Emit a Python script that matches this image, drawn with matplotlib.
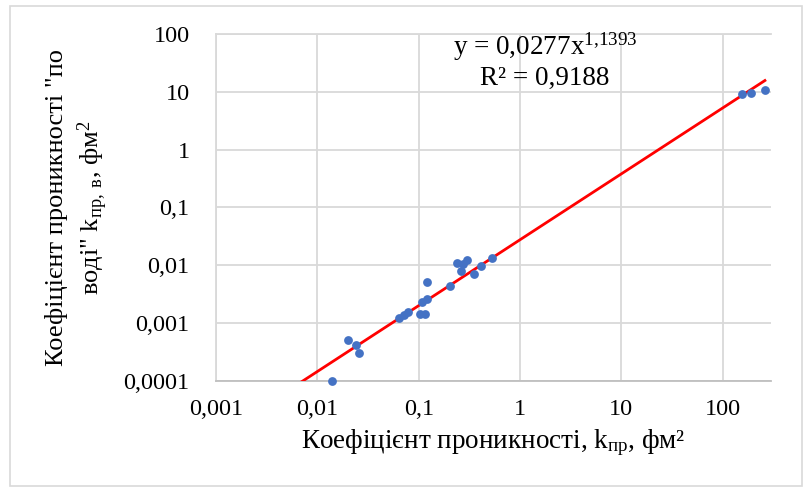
import numpy as np
import matplotlib
matplotlib.use("Agg")
import matplotlib.pyplot as plt
from matplotlib.patches import Rectangle

plt.rcParams['font.family'] = ['Liberation Serif', 'DejaVu Serif']
plt.rcParams['mathtext.fontset'] = 'custom'
plt.rcParams['mathtext.rm'] = 'Liberation Serif'
plt.rcParams['mathtext.it'] = 'Liberation Serif:italic'

# data
k_pr = [0.0138, 0.0199, 0.024, 0.0259, 0.0643, 0.0714, 0.0788, 0.1028, 0.115,
        0.109, 0.1197, 0.1205, 0.203, 0.237, 0.271, 0.301, 0.261, 0.350,
        0.413, 0.523, 155, 189, 261]
k_pr_v = [0.0001, 0.000517, 0.000414, 0.000305, 0.00123, 0.00138, 0.00158,
          0.00144, 0.00144, 0.00229, 0.00258, 0.00521, 0.00439, 0.0111,
          0.01054, 0.01236, 0.00798, 0.00698, 0.00986, 0.01355, 9.17, 9.42, 10.6]

# power trendline y = a * x^b
a_coef = 0.0277
b_coef = 1.1393
r2 = 0.9188

x_ticks = [0.001, 0.01, 0.1, 1, 10, 100]
x_tick_labels = ['0,001', '0,01', '0,1', '1', '10', '100']
y_ticks = [0.0001, 0.001, 0.01, 0.1, 1, 10, 100]
y_tick_labels = ['0,0001', '0,001', '0,01', '0,1', '1', '10', '100']

fig = plt.figure(figsize=(8.04, 4.88), dpi=100)
ax = fig.add_axes([0.2687, 0.2193, 0.959 - 0.2687, 0.9303 - 0.2193])

# chart border
fig.patches.append(Rectangle((10 / 804, 2 / 488), 792 / 804, 480 / 488,
                             transform=fig.transFigure, fill=False,
                             edgecolor='#d9d9d9', linewidth=1.2))

ax.set_xscale('log')
ax.set_yscale('log')
ax.set_xlim(0.001, 300)
ax.set_ylim(0.0001, 100)

xt = np.logspace(np.log10(0.001), np.log10(max(k_pr)), 200)
ax.plot(xt, a_coef * xt ** b_coef, color='#ff0000', linewidth=2.0, zorder=3)
ax.scatter(k_pr, k_pr_v, s=40, color='#4472c4', zorder=4, clip_on=False,
           linewidths=0)

ax.set_xticks(x_ticks)
ax.set_xticklabels(x_tick_labels)
ax.set_yticks(y_ticks)
ax.set_yticklabels(y_tick_labels)
ax.minorticks_off()
ax.tick_params(length=0, labelsize=17.5)
ax.tick_params(axis='x', pad=13)
ax.tick_params(axis='y', pad=19)

ax.grid(True, color='#d9d9d9', linewidth=1.3)
ax.set_axisbelow(True)
for s in ['left', 'top', 'right']:
    ax.spines[s].set_color('#d9d9d9')
    ax.spines[s].set_linewidth(1.3)
ax.spines['right'].set_visible(False)
ax.spines['bottom'].set_color('#bfbfbf')
ax.spines['bottom'].set_linewidth(1.3)

ax.set_xlabel('Коефіцієнт проникності, k$_{\\mathrm{пр}}$, фм²', fontsize=19.5,
              labelpad=5)
ax.set_ylabel('Коефіцієнт проникності "по\nводі" k$_{\\mathrm{пр,\\ в}}$, фм$^2$',
              fontsize=19, labelpad=10, linespacing=1.3)

fig.text(545 / 804, 1 - 47 / 488, 'y = 0,0277x$^{1{,}1393}$', fontsize=19.5,
         ha='center', va='center')
fig.text(545 / 804, 1 - 78 / 488, 'R² = 0,9188', fontsize=19.5,
         ha='center', va='center')

fig.savefig('out.png', dpi=100)
